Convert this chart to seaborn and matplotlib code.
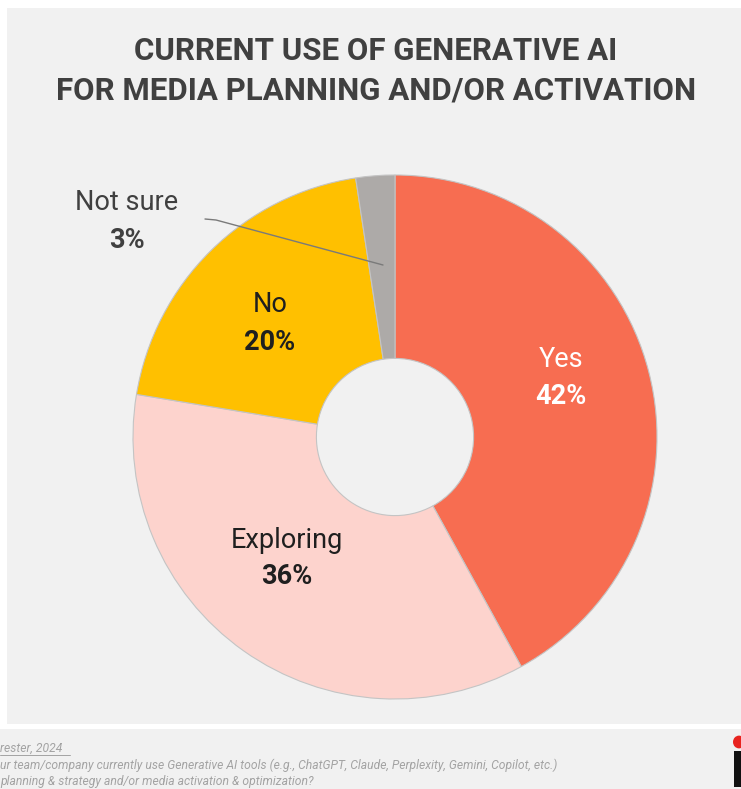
import matplotlib
matplotlib.use("Agg")
import matplotlib.pyplot as plt
from matplotlib.patches import Rectangle, Circle
from matplotlib.lines import Line2D
import seaborn as sns

# ---- data ----
categories = ["Yes", "Exploring", "No", "Not sure"]
values = [42.0, 35.6, 20.0, 2.4]
pct_labels = ["42%", "36%", "20%", "3%"]
colors = ["#F76D51", "#FDD3CD", "#FFC000", "#ADAAA8"]
title_lines = ["CURRENT USE OF GENERATIVE AI", "FOR MEDIA PLANNING AND/OR ACTIVATION"]
foot_lines = [
    "rester, 2024",
    "ur team/company currently use Generative AI tools (e.g., ChatGPT, Claude, Perplexity, Gemini, Copilot, etc.)",
    "planning & strategy and/or media activation & optimization?",
]

sns.set_style("white")
plt.rcParams["font.family"] = ["Roboto", "DejaVu Sans"]

W, H = 741, 789
fig = plt.figure(figsize=(W / 100, H / 100), dpi=100)
fig.patch.set_facecolor("white")

def fx(x):
    return x / W

def fy(y):
    return 1 - y / H

BG = "#F1F1F1"
# main panel and footer strip
fig.patches.append(Rectangle((fx(7), fy(724)), fx(741) - fx(7), fy(8) - fy(724),
                             transform=fig.transFigure, facecolor=BG, edgecolor="none", zorder=-5))
fig.patches.append(Rectangle((0, 0), 1, fy(729), transform=fig.transFigure,
                             facecolor=BG, edgecolor="none", zorder=-5))

# donut
cx, cy, R = 395, 437, 262
ax = fig.add_axes([fx(cx - R), fy(cy + R), 2 * R / W, 2 * R / H])
ax.set_facecolor("none")
ax.patch.set_alpha(0)
pal = sns.color_palette(colors)
wedges, _ = ax.pie(values, colors=pal, startangle=90, counterclock=False,
                   wedgeprops=dict(width=0.70, edgecolor="#C4C4C4", linewidth=0.8))
ax.set_xlim(-1, 1)
ax.set_ylim(-1, 1)
ax.set_aspect("equal")
ax.axis("off")

# title
for t, y in zip(title_lines, [51, 90]):
    fig.text(fx(376), fy(y), t, ha="center", va="center",
             fontsize=22.5, fontweight="bold", color="#404040")

# labels
label_pos = [(561, 359, 397), (287, 540, 577), (270, 304, 343), (127, 202, 240)]
label_cols = ["white", "#1F1F1F", "#1F1F1F", "#404040"]
for cat, pct, (x, y1, y2), c in zip(categories, pct_labels, label_pos, label_cols):
    fig.text(fx(x), fy(y1), cat, ha="center", va="center", fontsize=19.5, color=c)
    fig.text(fx(x), fy(y2), pct, ha="center", va="center", fontsize=19.5,
             fontweight="bold", color=c)

# leader line for Not sure
fig.lines.append(Line2D([fx(205), fx(216), fx(383)], [fy(219), fy(220), fy(265)],
                        transform=fig.transFigure, color="#7A7A7A", linewidth=1.0))

# footnote
foot_texts = []
for i, line in enumerate(foot_lines):
    t = fig.text(fx(0), fy(748 + i * 17), line, ha="left", va="center", fontsize=8.7,
                 style="italic", color="#A3A3A3")
    foot_texts.append(t)
# underline of the source line
fig.lines.append(Line2D([fx(0), fx(70)], [fy(755), fy(755)], transform=fig.transFigure,
                        color="#A3A3A3", linewidth=0.7))

# logo
fig.patches.append(Circle((fx(739), fy(742)), 6 / W, transform=fig.transFigure,
                          facecolor="#E8231F", edgecolor="none"))
fig.patches.append(Rectangle((fx(734), fy(787)), fx(741) - fx(734), fy(751) - fy(787),
                             transform=fig.transFigure, facecolor="#111111", edgecolor="none"))

fig.savefig("out.png", dpi=100, facecolor=fig.get_facecolor())
